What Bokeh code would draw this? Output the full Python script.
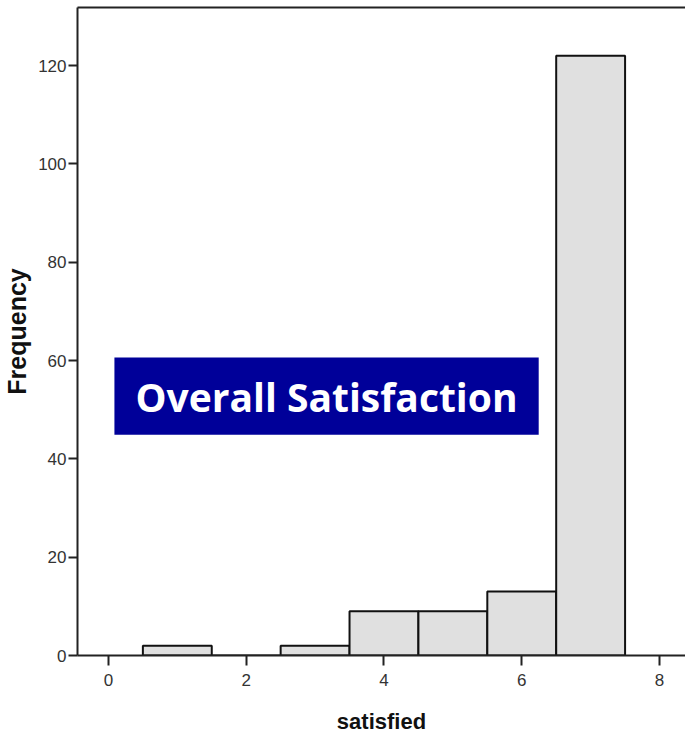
from bokeh.plotting import figure
from bokeh.models import Range1d, FixedTicker, LinearAxis, BoxAnnotation, Label
from bokeh.embed import file_html
from bokeh.resources import INLINE

# Data
bin_centers = [1, 2, 3, 4, 5, 6, 7]
frequencies = [2, 0, 2, 9, 9, 13, 122]
x_ticks = [0, 2, 4, 6, 8]
y_ticks = [0, 20, 40, 60, 80, 100, 120]
title_text = "Overall Satisfaction"
x_label = "satisfied"
y_label = "Frequency"

p = figure(width=685, height=739, output_backend="svg", toolbar_location=None,
           x_range=Range1d(-0.449, 8.377), y_range=Range1d(0, 131.8),
           min_border_left=76, min_border_right=0, min_border_top=7, min_border_bottom=84,
           background_fill_color="white", border_fill_color="white")
p.outline_line_color = None
p.xgrid.visible = False
p.ygrid.visible = False

p.vbar(x=bin_centers, top=frequencies, width=1.0, bottom=0,
       fill_color="#e0e0e0", line_color="#111111", line_width=2)

for ax in (p.xaxis[0], p.yaxis[0]):
    ax.axis_line_width = 2
    ax.axis_line_color = "#222222"
    ax.major_tick_line_width = 2
    ax.major_tick_line_color = "#222222"
    ax.minor_tick_line_color = None
    ax.major_tick_in = 0
    ax.major_label_text_font = "Liberation Sans"
    ax.major_label_text_font_size = "17px"
    ax.major_label_text_color = "#333333"
    ax.axis_label_text_font = "Liberation Sans"
    ax.axis_label_text_font_style = "bold"
    ax.axis_label_text_color = "#111111"

p.xaxis[0].axis_label_text_font_size = "22px"
p.yaxis[0].axis_label_text_font_size = "25px"
p.xaxis[0].ticker = FixedTicker(ticks=x_ticks)
p.yaxis[0].ticker = FixedTicker(ticks=y_ticks)
p.xaxis[0].major_tick_out = 10
p.yaxis[0].major_tick_out = 9
p.xaxis[0].major_label_standoff = 8
p.yaxis[0].major_label_standoff = 2
p.xaxis[0].axis_label = x_label
p.yaxis[0].axis_label = y_label
p.xaxis[0].axis_label_standoff = 20
p.yaxis[0].axis_label_standoff = 4

top_axis = LinearAxis(ticker=FixedTicker(ticks=[]), axis_line_width=2, axis_line_color="#222222",
                      major_tick_line_color=None, minor_tick_line_color=None,
                      major_label_text_font_size="0px")
p.add_layout(top_axis, "above")

box = BoxAnnotation(left=0.087, right=6.246, bottom=44.9, top=60.6,
                    fill_color="#000099", fill_alpha=1.0, line_color=None)
p.add_layout(box)
lbl = Label(x=3.166, y=52.75, text=title_text, text_align="center", text_baseline="middle",
            text_color="white", text_font="Open Sans", text_font_style="bold",
            text_font_size="39px")
p.add_layout(lbl)

open("out.html", "w").write(file_html(p, INLINE))
